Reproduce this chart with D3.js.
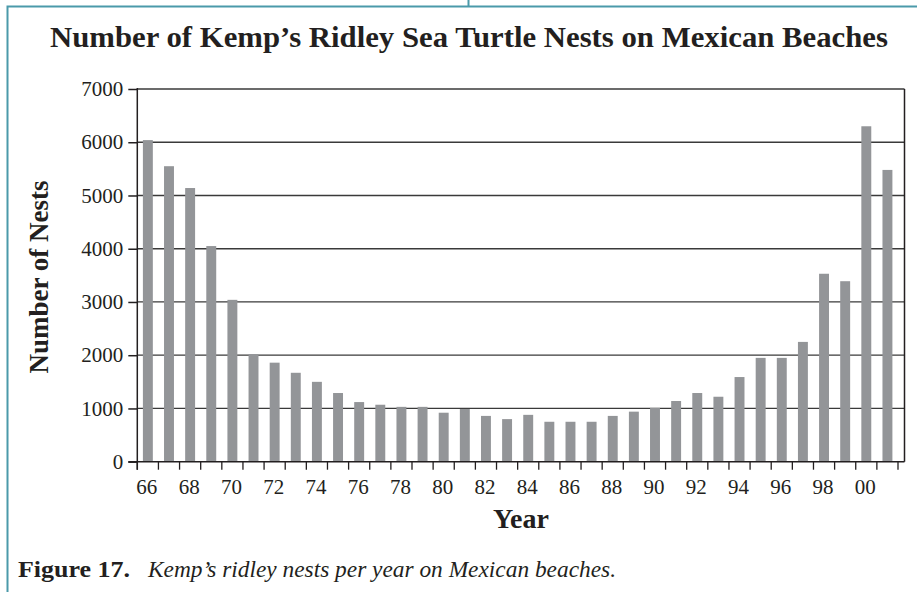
<!DOCTYPE html>
<html>
<head>
<meta charset="utf-8">
<script src="https://cdn.jsdelivr.net/npm/d3@7"></script>
<style>
  html, body { margin: 0; padding: 0; background: #fff; }
  svg { display: block; }
  text { font-family: "Liberation Serif", "DejaVu Serif", serif; fill: #231f20; }
</style>
</head>
<body>
<svg id="chart" width="917" height="592"></svg>
<script>
// ---- data ----
const years = [1966,1967,1968,1969,1970,1971,1972,1973,1974,1975,1976,1977,1978,1979,1980,1981,1982,1983,1984,1985,1986,1987,1988,1989,1990,1991,1992,1993,1994,1995,1996,1997,1998,1999,2000,2001];
const nests = [6040,5550,5140,4050,3040,2020,1860,1670,1500,1290,1120,1070,1030,1030,920,990,860,800,880,750,750,750,860,940,1010,1140,1290,1220,1590,1950,1950,2250,3530,3390,6300,5480];
const yTicks = [0,1000,2000,3000,4000,5000,6000,7000];
const xTickLabels = ["66","68","70","72","74","76","78","80","82","84","86","88","90","92","94","96","98","00"];
const labelYears = [1966,1968,1970,1972,1974,1976,1978,1980,1982,1984,1986,1988,1990,1992,1994,1996,1998,2000];
const titleText = "Number of Kemp\u2019s Ridley Sea Turtle Nests on Mexican Beaches";
const yTitle = "Number of Nests";
const xTitle = "Year";
const captionBold = "Figure 17.";
const captionItalic = "Kemp\u2019s ridley nests per year on Mexican beaches.";

// ---- layout ----
const svg = d3.select("#chart");
const pLeft = 137.3, pRight = 898, frameRight = 904.5, pTop = 89, pBottom = 461.7;
const ink = "#231f20", teal = "#4b9aaa", barColor = "#939598";

const x = d3.scaleBand().domain(years).range([pLeft, pRight]).paddingInner(0.53).paddingOuter(0.265);
const xb = d3.scaleBand().domain(years).range([pLeft, pRight]).padding(0);
const y = d3.scaleLinear().domain([0, 7000]).range([pBottom, pTop]);

// outer frame (teal)
svg.append("path")
  .attr("d", `M7.5,592 V6.5 H917 M468.5,0 V6.5`)
  .attr("fill", "none").attr("stroke", teal).attr("stroke-width", 2);

// title
svg.append("text")
  .attr("x", 50).attr("y", 47)
  .attr("font-size", 29).attr("font-weight", "bold")
  .attr("textLength", 838).attr("lengthAdjust", "spacingAndGlyphs")
  .text(titleText);

// gridlines
svg.append("g").selectAll("line").data(yTicks.filter(d => d > 0)).join("line")
  .attr("x1", pLeft).attr("x2", frameRight)
  .attr("y1", d => y(d)).attr("y2", d => y(d))
  .attr("stroke", "#3a3a3a").attr("stroke-width", 1.3);

// bars
svg.append("g").selectAll("rect").data(years).join("rect")
  .attr("x", (d) => x(d))
  .attr("width", x.bandwidth())
  .attr("y", (d, i) => y(nests[i]))
  .attr("height", (d, i) => pBottom - y(nests[i]))
  .attr("fill", barColor);

// right frame
svg.append("line")
  .attr("x1", frameRight).attr("x2", frameRight).attr("y1", pTop).attr("y2", pBottom)
  .attr("stroke", ink).attr("stroke-width", 1.5);

// y axis
const yAxis = d3.axisLeft(y).tickValues(yTicks).tickSize(9).tickPadding(5).tickFormat(d3.format("d"));
const gy = svg.append("g").attr("transform", `translate(${pLeft},0)`).call(yAxis);
gy.attr("font-family", null).attr("font-size", null);
gy.select(".domain").remove();
gy.selectAll(".tick line").attr("stroke", ink).attr("stroke-width", 1.5);
gy.selectAll(".tick text").style("font-size", "21px").style("font-family", "'Liberation Serif', serif").attr("fill", ink);
svg.append("line").attr("x1", pLeft).attr("x2", pLeft).attr("y1", pTop - 1).attr("y2", pBottom + 8)
  .attr("stroke", ink).attr("stroke-width", 1.5);

// x axis line + ticks at band boundaries
svg.append("line").attr("x1", pLeft - 9).attr("x2", frameRight).attr("y1", pBottom).attr("y2", pBottom)
  .attr("stroke", ink).attr("stroke-width", 1.6);
const bounds = years.map(d => xb(d)).concat([xb(years[years.length - 1]) + xb.bandwidth()]);
svg.append("g").selectAll("line").data(bounds).join("line")
  .attr("x1", d => d).attr("x2", d => d).attr("y1", pBottom).attr("y2", pBottom + 8)
  .attr("stroke", ink).attr("stroke-width", 1.3);

// x tick labels
svg.append("g").selectAll("text").data(labelYears).join("text")
  .attr("x", d => x(d) + x.bandwidth() / 2 - 1)
  .attr("y", 494)
  .attr("text-anchor", "middle")
  .attr("font-size", 21)
  .text((d, i) => xTickLabels[i]);

// axis titles
svg.append("text")
  .attr("transform", `translate(48,277) rotate(-90)`)
  .attr("text-anchor", "middle")
  .attr("font-size", 27).attr("font-weight", "bold")
  .attr("textLength", 193).attr("lengthAdjust", "spacingAndGlyphs")
  .text(yTitle);

svg.append("text")
  .attr("x", (pLeft + frameRight) / 2).attr("y", 528)
  .attr("text-anchor", "middle")
  .attr("font-size", 28).attr("font-weight", "bold")
  .text(xTitle);

// caption
svg.append("text").attr("x", 18).attr("y", 577).attr("font-size", 24)
  .attr("font-weight", "bold")
  .attr("textLength", 112).attr("lengthAdjust", "spacingAndGlyphs")
  .text(captionBold);
svg.append("text").attr("x", 148).attr("y", 577).attr("font-size", 24)
  .attr("font-style", "italic")
  .attr("textLength", 468).attr("lengthAdjust", "spacingAndGlyphs")
  .text(captionItalic);
</script>
</body>
</html>
